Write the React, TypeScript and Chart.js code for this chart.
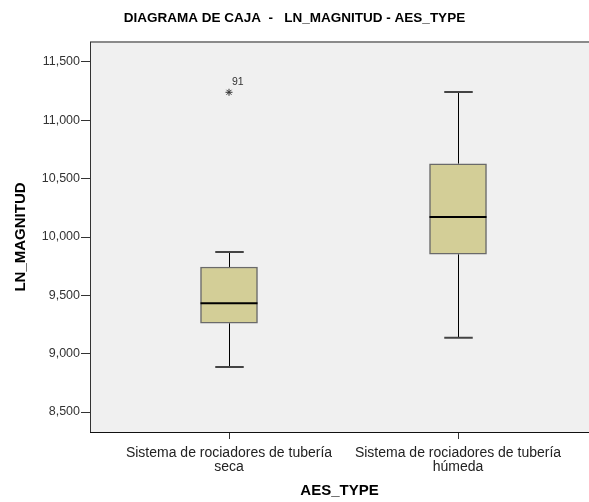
import React, { useEffect, useRef } from "react";
import { Chart, registerables } from "chart.js";

Chart.register(...registerables);

const categories: string[][] = [
  ["Sistema de rociadores de tubería", "seca"],
  ["Sistema de rociadores de tubería", "húmeda"],
];
const positions = [1, 2];
const whiskerLow = [8.886, 9.137];
const q1 = [9.261, 9.852];
const median = [9.432, 10.171];
const q3 = [9.743, 10.628];
const whiskerHigh = [9.871, 11.243];
const outlierCategory = [1];
const outlierValue = [11.24];
const outlierLabel = ["91"];
const yTicks = [8.5, 9.0, 9.5, 10.0, 10.5, 11.0, 11.5];

const FONT = "Arial, 'Liberation Sans', sans-serif";

const boxPlugin = {
  id: "boxWhiskers",
  beforeDraw(chart: any) {
    const { ctx, chartArea: a } = chart;
    ctx.save();
    ctx.fillStyle = "#ffffff";
    ctx.fillRect(0, 0, chart.width, chart.height);
    ctx.fillStyle = "#f0f0f0";
    ctx.fillRect(a.left, a.top, a.right - a.left, a.bottom - a.top);
    ctx.restore();
  },
  beforeDatasetsDraw(chart: any) {
    const { ctx } = chart;
    const x = chart.scales.x;
    const y = chart.scales.y;
    const meta = chart.getDatasetMeta(0);
    ctx.save();
    positions.forEach((p, i) => {
      const cx = Math.round(x.getPixelForValue(p)) + 0.5;
      const bar: any = meta.data[i];
      const half = bar ? bar.width / 2 : 28;
      ctx.strokeStyle = "#000";
      ctx.lineWidth = 1;
      ctx.beginPath();
      ctx.moveTo(cx, y.getPixelForValue(q3[i]));
      ctx.lineTo(cx, y.getPixelForValue(whiskerHigh[i]));
      ctx.moveTo(cx, y.getPixelForValue(q1[i]));
      ctx.lineTo(cx, y.getPixelForValue(whiskerLow[i]));
      ctx.stroke();
      ctx.strokeStyle = "#444";
      ctx.lineWidth = 2;
      ctx.beginPath();
      const cap = half / 2;
      [whiskerHigh[i], whiskerLow[i]].forEach((v) => {
        const py = y.getPixelForValue(v);
        ctx.moveTo(cx - cap, py);
        ctx.lineTo(cx + cap, py);
      });
      ctx.stroke();
    });
    ctx.restore();
  },
  afterDatasetsDraw(chart: any) {
    const { ctx, chartArea: a } = chart;
    const x = chart.scales.x;
    const y = chart.scales.y;
    const meta = chart.getDatasetMeta(0);
    ctx.save();
    positions.forEach((p, i) => {
      const cx = x.getPixelForValue(p);
      const bar: any = meta.data[i];
      const half = bar ? bar.width / 2 : 28;
      const py = y.getPixelForValue(median[i]);
      ctx.strokeStyle = "#000";
      ctx.lineWidth = 2;
      ctx.beginPath();
      ctx.moveTo(cx - half, py);
      ctx.lineTo(cx + half, py);
      ctx.stroke();
    });
    ctx.fillStyle = "#333";
    ctx.font = "10.5px " + FONT;
    ctx.textAlign = "left";
    ctx.textBaseline = "middle";
    outlierValue.forEach((v, i) => {
      const px = x.getPixelForValue(outlierCategory[i]);
      const py = y.getPixelForValue(v);
      ctx.fillText(outlierLabel[i], px + 3, py - 10);
    });
    // frame
    ctx.lineWidth = 2;
    ctx.strokeStyle = "#8a8a8a";
    ctx.beginPath();
    ctx.moveTo(a.left, a.top);
    ctx.lineTo(a.right, a.top);
    ctx.stroke();
    ctx.lineWidth = 1;
    ctx.strokeStyle = "#333";
    ctx.beginPath();
    ctx.moveTo(a.left + 0.5, a.top);
    ctx.lineTo(a.left + 0.5, a.bottom);
    ctx.stroke();
    ctx.strokeStyle = "#111";
    ctx.beginPath();
    ctx.moveTo(a.left, a.bottom + 0.5);
    ctx.lineTo(a.right, a.bottom + 0.5);
    ctx.stroke();
    ctx.restore();
  },
};

export default function App() {
  const ref = useRef<HTMLCanvasElement>(null);
  useEffect(() => {
    if (!ref.current) return;
    const chart = new Chart(ref.current, {
      type: "bar",
      data: {
        datasets: [
          {
            type: "bar",
            label: "box",
            data: positions.map((p, i) => ({ x: p, y: [q1[i], q3[i]] })) as any,
            backgroundColor: "#d3ce97",
            borderColor: "#6a6a6a",
            borderWidth: 1.5,
            borderSkipped: false,
            barThickness: 57,
          } as any,
          {
            type: "scatter",
            label: "outliers",
            data: outlierValue.map((v, i) => ({ x: outlierCategory[i], y: v })),
            pointStyle: "star",
            radius: 3.5,
            borderColor: "#333",
            backgroundColor: "#333",
            borderWidth: 1,
          } as any,
        ],
      },
      plugins: [boxPlugin],
      options: {
        responsive: false,
        animation: false,
        layout: { padding: 0, autoPadding: false },
        plugins: {
          legend: { display: false },
          tooltip: { enabled: false },
          title: {
            display: true,
            text: "DIAGRAMA DE CAJA  -   LN_MAGNITUD - AES_TYPE",
            color: "#000",
            font: { family: FONT, size: 13.5, weight: "bold", lineHeight: 1.2 },
            padding: { top: 10, bottom: 15.8 },
          },
        },
        scales: {
          x: {
            type: "linear",
            offset: false,
            min: 0.393,
            max: 2.572,
            afterBuildTicks: (s: any) => {
              s.ticks = positions.map((v) => ({ value: v }));
            },
            afterFit: (s: any) => {
              s.height = 70;
              s.paddingLeft = 0;
              s.paddingRight = 0;
            },
            ticks: {
              callback: (v: any) => {
                const i = positions.indexOf(Number(v));
                return i >= 0 ? categories[i] : "";
              },
              color: "#222",
              font: { family: FONT, size: 14, lineHeight: 1 },
              padding: 7,
              maxRotation: 0,
              autoSkip: false,
            },
            grid: { offset: false, drawOnChartArea: false, drawTicks: true, tickLength: 7, color: "#333" },
            border: { display: false },
            title: {
              display: true,
              text: "AES_TYPE",
              color: "#000",
              font: { family: FONT, size: 15, weight: "bold", lineHeight: 1.2 },
              padding: { top: 0, bottom: 2 },
            },
          },
          y: {
            type: "linear",
            min: 8.329,
            max: 11.671,
            afterBuildTicks: (s: any) => {
              s.ticks = yTicks.map((v) => ({ value: v }));
            },
            afterFit: (s: any) => {
              s.width = 90;
            },
            ticks: {
              callback: (v: any) => Number(v).toFixed(3).replace(".", ","),
              color: "#333",
              font: { family: FONT, size: 12.5 },
              padding: 1,
            },
            grid: { drawOnChartArea: false, drawTicks: true, tickLength: 9, color: "#333" },
            border: { display: false },
            title: {
              display: true,
              text: "LN_MAGNITUD",
              color: "#000",
              font: { family: FONT, size: 15, weight: "bold", lineHeight: 1.2 },
              padding: { top: 12, bottom: 0 },
            },
          },
        },
      } as any,
    });
    return () => chart.destroy();
  }, []);
  return (
    <div style={{ position: "absolute", left: 0, top: 0, width: 589, height: 502 }}>
      <canvas ref={ref} width={589} height={502} />
    </div>
  );
}
